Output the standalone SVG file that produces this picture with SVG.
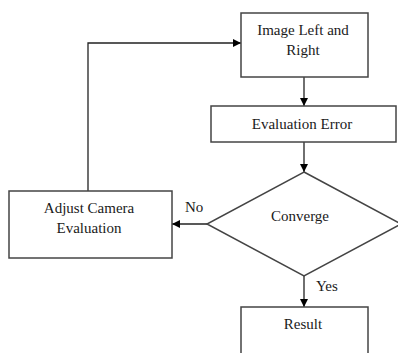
<svg xmlns="http://www.w3.org/2000/svg" width="398" height="353" viewBox="0 0 398 353">
<style>
.box{fill:#fff;stroke:#444;stroke-width:1.5}
.t{font-family:'Liberation Serif','Times New Roman','DejaVu Serif',serif;font-size:15px;fill:#1a1a1a;text-anchor:middle}
.l{font-family:'Liberation Serif','Times New Roman','DejaVu Serif',serif;font-size:15px;fill:#1a1a1a}
.c{fill:none;stroke:#222;stroke-width:1.3}
</style>
<defs>
<marker id="ah" viewBox="0 0 10 10" refX="10" refY="5" markerWidth="8" markerHeight="8" markerUnits="userSpaceOnUse" orient="auto">
<path d="M0,0 L10,5 L0,10 z" fill="#000"/>
</marker>
</defs>
<rect width="398" height="353" fill="#fff"/>
<g id="connectors">
<path class="c" d="M88,191 V43 H241" marker-end="url(#ah)"/>
<path class="c" d="M304,77 V106" marker-end="url(#ah)"/>
<path class="c" d="M304,142 V172" marker-end="url(#ah)"/>
<path class="c" d="M207,224 H172" marker-end="url(#ah)"/>
<path class="c" d="M304,276 V307" marker-end="url(#ah)"/>
<text class="l" x="185" y="212">No</text>
<text class="l" x="316" y="291">Yes</text>
</g>
<g id="image">
<rect class="box" x="241" y="13" width="127" height="64"/>
<text class="t" x="303" y="35">Image Left and</text>
<text class="t" x="303" y="55">Right</text>
</g>
<g id="evaluation-error">
<rect class="box" x="211" y="106" width="185" height="36"/>
<text class="t" x="302" y="129">Evaluation Error</text>
</g>
<g id="converge">
<polygon class="box" points="304,172 401,224 304,276 207,224"/>
<text class="t" x="300" y="221">Converge</text>
</g>
<g id="adjust">
<rect class="box" x="9" y="191" width="163" height="67"/>
<text class="t" x="89" y="213">Adjust Camera</text>
<text class="t" x="89" y="233">Evaluation</text>
</g>
<g id="result">
<rect class="box" x="241" y="307" width="127" height="60"/>
<text class="t" x="303" y="329">Result</text>
</g>
</svg>
